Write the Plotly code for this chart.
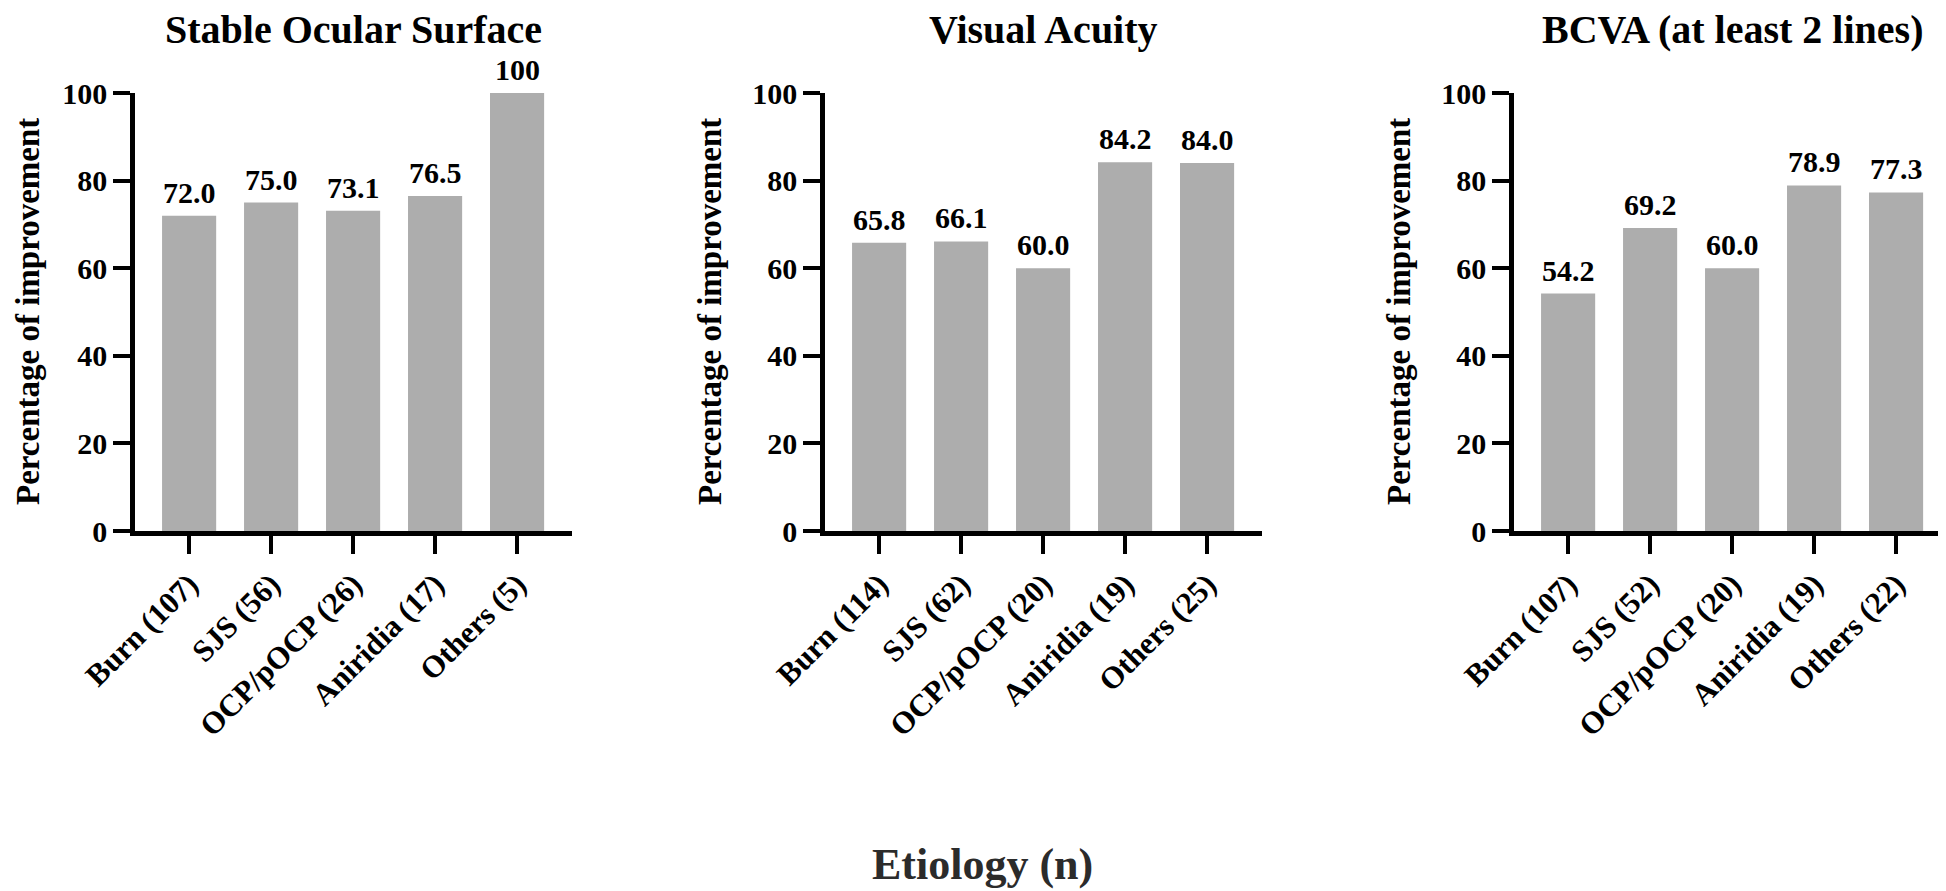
import plotly.graph_objects as go

# ---- data ----
titles = ["Stable Ocular Surface", "Visual Acuity", "BCVA (at least 2 lines)"]
cats_sos = ["Burn (107)", "SJS (56)", "OCP/pOCP (26)", "Aniridia (17)", "Others (5)"]
vals_sos = [72.0, 75.0, 73.1, 76.5, 100]
cats_va = ["Burn (114)", "SJS (62)", "OCP/pOCP (20)", "Aniridia (19)", "Others (25)"]
vals_va = [65.8, 66.1, 60.0, 84.2, 84.0]
cats_bcva = ["Burn (107)", "SJS (52)", "OCP/pOCP (20)", "Aniridia (19)", "Others (22)"]
vals_bcva = [54.2, 69.2, 60.0, 78.9, 77.3]
y_ticks = [0, 20, 40, 60, 80, 100]
y_title = "Percentage of improvement"
x_title = "Etiology (n)"

panels = [(cats_sos, vals_sos), (cats_va, vals_va), (cats_bcva, vals_bcva)]

W, H = 1946, 891
FONT = "Liberation Serif, Times New Roman, serif"
BAR = "#adadad"

# pixel layout
x_left = [127, 817, 1506]
plot_w = 437
y_top, y_bot = 85, 523

fig = go.Figure()

def lab(v):
    return "100" if v == 100 else f"{v:.1f}"

for i, (cats, vals) in enumerate(panels):
    n = "" if i == 0 else str(i + 1)
    fig.add_trace(go.Bar(x=cats, y=vals, marker_color=BAR, marker_line_width=0,
                         width=0.66, xaxis="x" + n, yaxis="y" + n,
                         showlegend=False, hoverinfo="x+y"))
    d0 = x_left[i] / W
    d1 = (x_left[i] + plot_w) / W
    fig.update_layout(**{
        "xaxis" + n: dict(domain=[d0, d1], anchor="y" + n, range=[-0.66, 4.67],
                          automargin=False,
                          showline=True, linewidth=4.5, linecolor="black",
                          ticks="outside", ticklen=18, tickwidth=4, tickcolor="black",
                          tickangle=-45, showgrid=False, zeroline=False,
                          tickfont=dict(family=FONT, size=31, color="black", weight="bold")),
        "yaxis" + n: dict(domain=[(H - y_bot) / H, (H - y_top) / H], anchor="x" + n,
                          range=[0, 100], tickvals=y_ticks, automargin=False,
                          showline=True, linewidth=4.5, linecolor="black",
                          ticks="outside", ticklen=17, tickwidth=4, tickcolor="black",
                          showgrid=False, zeroline=False,
                          tickfont=dict(family=FONT, size=30, color="black", weight="bold")),
    })
    # value labels
    for c, v in zip(cats, vals):
        fig.add_annotation(x=c, y=v, xref="x" + n, yref="y" + n, text=lab(v),
                           showarrow=False, yanchor="bottom", yshift=5,
                           font=dict(family=FONT, size=30, color="black", weight="bold"))
    # panel title (centred over plot area)
    fig.add_annotation(x=(x_left[i] + plot_w / 2) / W, y=1 - 21 / H, xref="paper", yref="paper",
                       text=titles[i], showarrow=False, xanchor="center", yanchor="middle",
                       font=dict(family=FONT, size=40, color="black", weight="bold"))
    # y axis title
    if i == 0:
        ytx, yta = 0.0, "left"
    else:
        ytx, yta = (x_left[i] - 115) / W, "center"
    fig.add_annotation(x=ytx, y=1 - ((y_top + y_bot) / 2) / H,
                       xref="paper", yref="paper", text=y_title, textangle=-90,
                       showarrow=False, xanchor=yta, yanchor="middle",
                       font=dict(family=FONT, size=33, color="black", weight="bold"))

fig.add_annotation(x=975 / W, y=1 - 856 / H, xref="paper", yref="paper", text=x_title,
                   showarrow=False, xanchor="center", yanchor="middle",
                   font=dict(family=FONT, size=44, color="#2b2b2b", weight="bold"))

fig.update_layout(width=W, height=H, autosize=False,
                  margin=dict(l=0, r=0, t=0, b=0, pad=0, autoexpand=False),
                  paper_bgcolor="white", plot_bgcolor="white", bargap=0.34)

fig.write_html("out.html")
